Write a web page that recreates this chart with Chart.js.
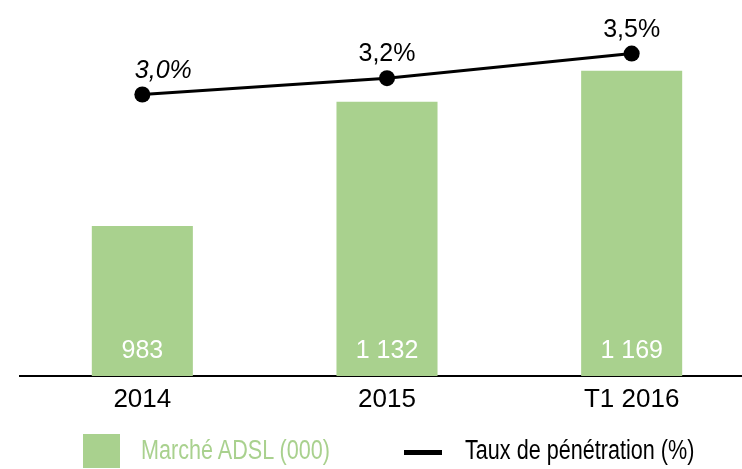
<!DOCTYPE html>
<html>
<head>
<meta charset="utf-8">
<script src="https://cdn.jsdelivr.net/npm/chart.js@4/dist/chart.umd.min.js"></script>
<style>
  html, body { margin: 0; padding: 0; overflow: hidden; background: #fff; }
  #wrap { position: relative; width: 762px; height: 469px; }
  #legend { position: absolute; left: 0; top: 0; width: 742px; height: 469px; pointer-events: none; }
  .sq { position: absolute; left: 83px; top: 434px; width: 37px; height: 34px; background: #a9d18e; }
  .ln { position: absolute; left: 404px; top: 450px; width: 38px; height: 5px; background: #000; }
  .txt { position: absolute; top: 433px; line-height: 34px; font-family: "Liberation Sans", Arial, sans-serif; font-size: 27px; white-space: nowrap; transform: scaleX(0.8); transform-origin: 0 50%; }
</style>
</head>
<body>
<div id="wrap">
  <canvas id="grafico"></canvas>
  <div id="legend">
    <div class="sq"></div>
    <div class="txt" style="left:141px;color:#a9d18e">Marché ADSL (000)</div>
    <div class="ln"></div>
    <div class="txt" style="left:465px;color:#000">Taux de pénétration (%)</div>
  </div>
</div>
<script>
// donnees
const categories = ["2014", "2015", "T1 2016"];
const marcheADSL = [983, 1132, 1169];
const tauxPenetration = [3.0, 3.2, 3.5];

const VERT = "#a9d18e";
const FONTE = "'Liberation Sans', Arial, sans-serif";

// decalage et style des etiquettes du taux
const decalageTaux = [21, 0, 0];
const italiqueTaux = [true, false, false];

function formatMilliers(v){
    return String(v).replace(/\B(?=(\d{3})+(?!\d))/g, " ");
}

// =================================
// ETIQUETTES
// =================================
const etiquettes = {
    id: "etiquettes",
    afterDatasetsDraw(chart){
        const ctx = chart.ctx;
        const bas = chart.chartArea.bottom;
        ctx.save();
        ctx.textAlign = "center";
        ctx.textBaseline = "alphabetic";

        // valeurs des barres (dataset 1)
        chart.getDatasetMeta(1).data.forEach((bar, i) => {
            ctx.font = "25px " + FONTE;
            ctx.fillStyle = "#ffffff";
            ctx.fillText(formatMilliers(marcheADSL[i]), bar.x, bas - 18);
        });

        // valeurs du taux (dataset 0)
        chart.getDatasetMeta(0).data.forEach((pt, i) => {
            ctx.font = (italiqueTaux[i] ? "italic " : "") + "25px " + FONTE;
            ctx.fillStyle = "#000000";
            const txt = tauxPenetration[i].toFixed(1).replace(".", ",") + "%";
            ctx.fillText(txt, pt.x + decalageTaux[i], pt.y - 17);
        });
        ctx.restore();
    }
};

new Chart(document.getElementById("grafico"), {
    type: "bar",
    data: {
        labels: categories,
        datasets: [
            {
                type: "line",
                label: "Taux de pénétration (%)",
                data: tauxPenetration,
                yAxisID: "yTaux",
                borderColor: "#000",
                backgroundColor: "#000",
                borderWidth: 3,
                pointRadius: 8,
                pointBackgroundColor: "#000",
                pointBorderWidth: 0,
                tension: 0,
                order: 0
            },
            {
                label: "Marché ADSL (000)",
                data: marcheADSL,
                yAxisID: "yMarche",
                backgroundColor: VERT,
                borderWidth: 0,
                categoryPercentage: 1,
                barPercentage: 0.413,
                order: 1
            }
        ]
    },
    options: {
        responsive: true,
        maintainAspectRatio: false,
        animation: false,
        layout: { padding: { left: 20, right: 0, top: 20, bottom: 0 } },
        plugins: {
            legend: { display: false },
            tooltip: { enabled: false }
        },
        scales: {
            x: {
                grid: { display: false, drawTicks: false },
                border: { display: true, color: "#000", width: 2 },
                ticks: {
                    color: "#000",
                    font: { family: FONTE, size: 26 },
                    padding: 8
                },
                afterFit: s => { s.height = 93; }
            },
            yMarche: {
                display: false,
                min: 803,
                max: 1230
            },
            yTaux: {
                display: false,
                min: -0.433,
                max: 3.909
            }
        }
    },
    plugins: [etiquettes]
});
</script>
</body>
</html>
